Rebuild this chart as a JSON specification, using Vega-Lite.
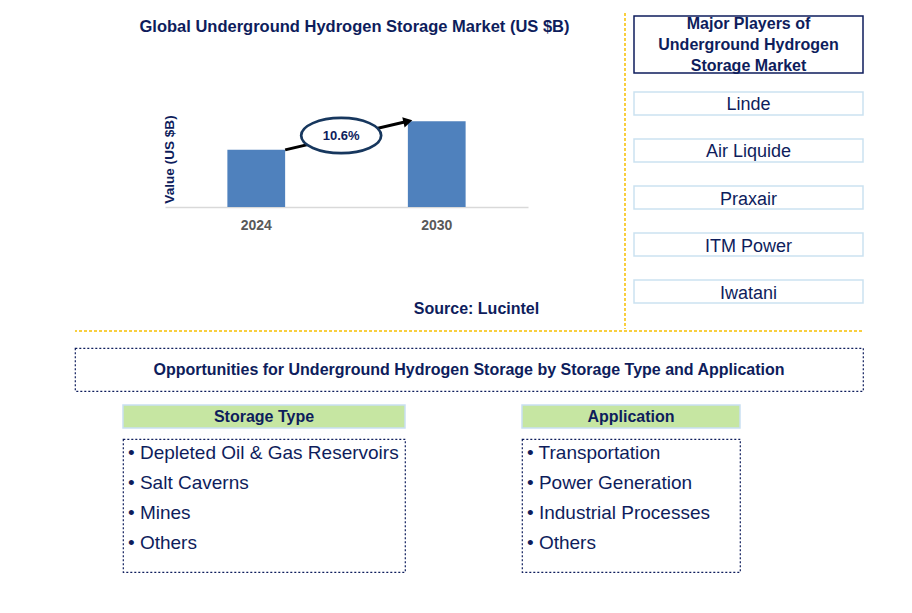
{
  "$schema": "https://vega.github.io/schema/vega-lite/v6.json",
  "padding": {"left": 74, "top": 12, "right": 20, "bottom": 20},
  "background": "white",
  "config": {
    "view": {"stroke": null},
    "font": "Liberation Sans",
    "text": {"font": "Liberation Sans"}
  },
  "datasets": {
    "market": [
      {"year": "2024", "value": 1.0},
      {"year": "2030", "value": 1.5}
    ],
    "cagr": [
      {"from": "2024", "to": "2030", "start": 1.0, "end": 1.5, "label": "10.6%"}
    ],
    "players": [
      {"player": "Linde"},
      {"player": "Air Liquide"},
      {"player": "Praxair"},
      {"player": "ITM Power"},
      {"player": "Iwatani"}
    ],
    "segments": [
      {"group": "Storage Type", "item": "Depleted Oil & Gas Reservoirs"},
      {"group": "Storage Type", "item": "Salt Caverns"},
      {"group": "Storage Type", "item": "Mines"},
      {"group": "Storage Type", "item": "Others"},
      {"group": "Application", "item": "Transportation"},
      {"group": "Application", "item": "Power Generation"},
      {"group": "Application", "item": "Industrial Processes"},
      {"group": "Application", "item": "Others"}
    ]
  },
  "spacing": 0,
  "vconcat": [
    {
      "spacing": 0,
      "hconcat": [
        {"width": 64, "height": 1, "data": {"values": []}, "mark": "point"},
        {
          "spacing": 0,
          "vconcat": [
            {"width": 1, "height": 5, "data": {"values": []}, "mark": "point"},
            {
              "width": 363,
              "height": 96,
              "title": {"text": "Global Underground Hydrogen Storage Market (US $B)", "fontSize": 16.5, "fontWeight": "bold", "color": "#0e1d5c", "offset": 60, "dx": 8, "anchor": "middle", "baseline": "bottom"},
              "layer": [
                {
                  "data": {"name": "market"},
                  "mark": {"type": "bar", "color": "#4f81bd"},
                  "encoding": {
                    "x": {
                      "field": "year", "type": "nominal", "title": "Source: Lucintel",
                      "scale": {"paddingInner": 0.68, "paddingOuter": 0.3456},
                      "axis": {
                        "bandPosition": 0.5, "labelAlign": "center",
                        "domainColor": "#d9d9d9", "domainWidth": 1.3, "ticks": false, "tickSize": 0,
                        "labelAngle": 0, "labelFontSize": 14, "labelFontWeight": "bold", "labelColor": "#595959", "labelPadding": 11,
                        "titleFontSize": 16, "titleFontWeight": "bold", "titleColor": "#0e1d5c",
                        "titleX": 311, "titleY": 101, "titleAlign": "center", "titleBaseline": "middle"
                      }
                    },
                    "y": {
                      "field": "value", "type": "quantitative", "title": "Value (US $B)",
                      "scale": {"domain": [0, 1.68], "nice": false},
                      "axis": {"domain": false, "ticks": false, "labels": false, "grid": false, "titleFontSize": 13.6, "titleFontWeight": "bold", "titleColor": "#0e1d5c", "titlePadding": -11}
                    }
                  }
                },
                {
                  "data": {"name": "cagr"},
                  "mark": {"type": "rule", "strokeWidth": 3, "color": "black", "x2Offset": -28.9},
                  "encoding": {
                    "x": {"field": "from", "type": "nominal", "bandPosition": 1, "title": "Source: Lucintel"},
                    "x2": {"field": "to"},
                    "y": {"field": "start", "type": "quantitative", "title": "Value (US $B)"},
                    "y2": {"field": "end"}
                  }
                },
                {
                  "data": {"name": "cagr"},
                  "mark": {"type": "point", "shape": "triangle-right", "filled": true, "color": "black", "size": 110, "angle": -13, "opacity": 1},
                  "encoding": {
                    "x": {"field": "to", "type": "nominal", "bandPosition": 0, "title": "Source: Lucintel"},
                    "y": {"field": "end", "type": "quantitative", "title": "Value (US $B)"}
                  }
                },
                {
                  "data": {"name": "cagr"},
                  "transform": [{"calculate": "(datum.start + datum.end) / 2", "as": "mid"}],
                  "mark": {"type": "point", "shape": "M -1 0 A 1 0.44 0 1 0 1 0 A 1 0.44 0 1 0 -1 0 Z", "size": 6400, "filled": true, "fill": "white", "stroke": "#17375e", "strokeWidth": 2.7, "opacity": 1},
                  "encoding": {
                    "x": {"field": "from", "type": "nominal", "bandPosition": 1.97, "title": "Source: Lucintel"},
                    "y": {"field": "mid", "type": "quantitative", "title": "Value (US $B)"}
                  }
                },
                {
                  "data": {"name": "cagr"},
                  "transform": [{"calculate": "(datum.start + datum.end) / 2", "as": "mid"}],
                  "mark": {"type": "text", "fontSize": 13, "fontWeight": "bold", "color": "#0e1d5c", "baseline": "middle"},
                  "encoding": {
                    "x": {"field": "from", "type": "nominal", "bandPosition": 1.97, "title": "Source: Lucintel"},
                    "y": {"field": "mid", "type": "quantitative", "title": "Value (US $B)"},
                    "text": {"field": "label"}
                  }
                }
              ]
            }
          ]
        },
        {"width": 54, "height": 1, "data": {"values": []}, "mark": "point"},
        {
          "width": 7.5, "height": 316,
          "data": {"values": [{}]},
          "mark": {"type": "rule", "color": "#f7c000", "strokeWidth": 1.5, "strokeDash": [3, 2]},
          "encoding": {"x": {"value": 0}}
        },
        {
          "spacing": 0,
          "vconcat": [
            {"width": 1, "height": 1, "data": {"values": []}, "mark": "point"},
            {
              "width": 229, "height": 57,
              "view": {"stroke": "#0e1d5c", "strokeWidth": 1.5},
              "data": {"values": [{}]},
              "mark": {"type": "text", "fontSize": 16, "fontWeight": "bold", "color": "#0e1d5c", "lineHeight": 21, "baseline": "middle", "dy": -21},
              "encoding": {"text": {"value": ["Major Players of", "Underground Hydrogen", "Storage Market"]}}
            },
            {"width": 1, "height": 16, "data": {"values": []}, "mark": "point"},
            {
              "width": 229, "height": 211,
              "data": {"name": "players"},
              "layer": [
                {
                  "mark": {"type": "rect", "fill": "white", "stroke": "#cbe2f1", "strokeWidth": 1.5},
                  "encoding": {
                    "y": {"field": "player", "type": "nominal", "sort": null, "scale": {"paddingInner": 0.511, "paddingOuter": 0}, "axis": null},
                    "x": {"value": 0},
                    "x2": {"value": "width"}
                  }
                },
                {
                  "mark": {"type": "text", "fontSize": 18, "color": "#0e1d5c", "baseline": "middle", "dy": 2},
                  "encoding": {
                    "y": {"field": "player", "type": "nominal", "sort": null},
                    "text": {"field": "player"}
                  }
                }
              ]
            }
          ]
        }
      ]
    },
    {
      "width": 787, "height": 16,
      "data": {"values": [{}]},
      "mark": {"type": "rule", "color": "#f7c000", "strokeWidth": 1.5, "strokeDash": [3, 2]},
      "encoding": {"y": {"value": 0}}
    },
    {
      "width": 788, "height": 43,
      "view": {"stroke": "#0e1d5c", "strokeDash": [2, 2], "strokeWidth": 1.2},
      "data": {"values": [{"t": "Opportunities for Underground Hydrogen Storage by Storage Type and Application"}]},
      "mark": {"type": "text", "fontSize": 16, "fontWeight": "bold", "color": "#0e1d5c", "baseline": "middle"},
      "encoding": {"text": {"field": "t"}}
    },
    {"width": 1, "height": 12, "data": {"values": []}, "mark": "point"},
    {
      "spacing": 0,
      "hconcat": [
        {"width": 47, "height": 1, "data": {"values": []}, "mark": "point"},
        {
          "spacing": 9,
          "vconcat": [
            {
              "width": 282, "height": 23,
              "view": {"fill": "#c6e6a2", "stroke": "#c9e0f2", "strokeWidth": 1.5},
              "data": {"values": [{"t": "Storage Type"}]},
              "mark": {"type": "text", "fontSize": 16, "fontWeight": "bold", "color": "#0e1d5c", "baseline": "middle"},
              "encoding": {"text": {"field": "t"}}
            },
            {
              "width": 282, "height": 133,
              "view": {"stroke": "#0e1d5c", "strokeDash": [2, 2], "strokeWidth": 1.2},
              "data": {"name": "segments"},
              "transform": [
                {"filter": "datum.group === 'Storage Type'"},
                {"calculate": "'• ' + datum.item", "as": "label"}
              ],
              "mark": {"type": "text", "align": "left", "fontSize": 19, "color": "#0e1d5c", "baseline": "middle"},
              "encoding": {
                "x": {"value": 5},
                "y": {"field": "item", "type": "nominal", "sort": null, "scale": {"type": "point", "padding": 0.717, "align": 0.32}, "axis": null},
                "text": {"field": "label"}
              }
            }
          ]
        },
        {"width": 114.5, "height": 1, "data": {"values": []}, "mark": "point"},
        {
          "spacing": 9,
          "vconcat": [
            {
              "width": 218, "height": 23,
              "view": {"fill": "#c6e6a2", "stroke": "#c9e0f2", "strokeWidth": 1.5},
              "data": {"values": [{"t": "Application"}]},
              "mark": {"type": "text", "fontSize": 16, "fontWeight": "bold", "color": "#0e1d5c", "baseline": "middle"},
              "encoding": {"text": {"field": "t"}}
            },
            {
              "width": 218, "height": 133,
              "view": {"stroke": "#0e1d5c", "strokeDash": [2, 2], "strokeWidth": 1.2},
              "data": {"name": "segments"},
              "transform": [
                {"filter": "datum.group === 'Application'"},
                {"calculate": "'• ' + datum.item", "as": "label"}
              ],
              "mark": {"type": "text", "align": "left", "fontSize": 19, "color": "#0e1d5c", "baseline": "middle"},
              "encoding": {
                "x": {"value": 5},
                "y": {"field": "item", "type": "nominal", "sort": null, "scale": {"type": "point", "padding": 0.717, "align": 0.32}, "axis": null},
                "text": {"field": "label"}
              }
            }
          ]
        }
      ]
    }
  ]
}
